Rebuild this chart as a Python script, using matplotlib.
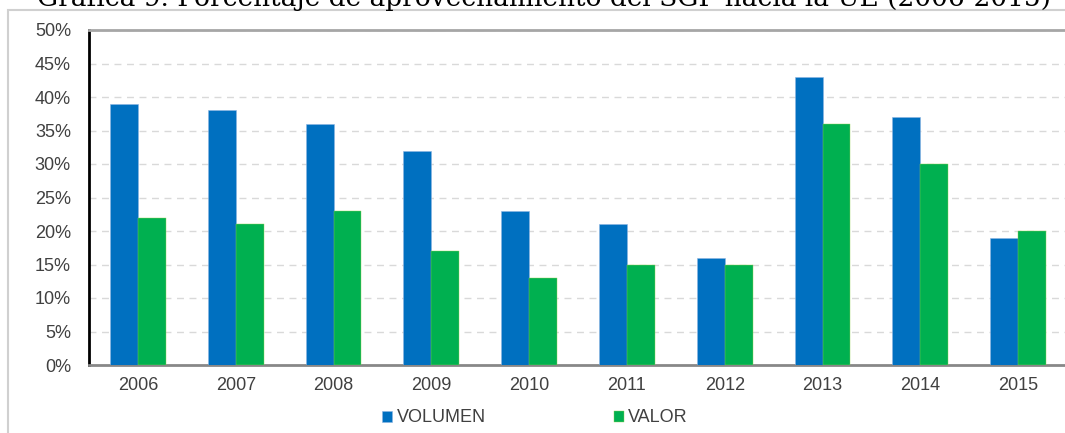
import numpy as np
import matplotlib.pyplot as plt
from matplotlib.patches import Rectangle

# --- datos ---
anios = ['2006', '2007', '2008', '2009', '2010', '2011', '2012', '2013', '2014', '2015']
volumen = [39, 38, 36, 32, 23, 21, 16, 43, 37, 19]
valor = [22, 21, 23, 17, 13, 15, 15, 36, 30, 20]
titulo = 'Gráfica 9. Porcentaje de aprovechamiento del SGP hacia la UE (2006-2015)'

azul = '#0070C0'
verde = '#00B050'
gris_txt = '#404040'

plt.rcParams['font.family'] = ['Liberation Sans', 'DejaVu Sans']

fig = plt.figure(figsize=(10.65, 4.33), dpi=100)
ax = fig.add_axes([89/1065, 1 - 365/433, 978/1065, 335/433])

# marco exterior del gráfico
fig.patches.append(Rectangle((8/1065, -0.1), 1.2, 1 - 10/433 + 0.1,
                             transform=fig.transFigure, fill=False,
                             edgecolor='#D0D0D0', linewidth=1.5, zorder=0))

# titulo (cortado en la parte superior)
fig.text(544/1065, 1 - 6/433, titulo, family='DejaVu Serif', fontsize=19,
         ha='center', va='baseline', color='black')

x = np.arange(len(anios))
w = 0.286
ax.bar(x - w/2, volumen, w, color=azul, label='VOLUMEN', zorder=3,
       edgecolor='#8DB4E2', linewidth=0.4)
ax.bar(x + w/2, valor, w, color=verde, label='VALOR', zorder=3,
       edgecolor='#92D050', linewidth=0.3)

ax.set_xlim(-0.5, len(anios) - 0.5)
ax.set_ylim(0, 50)
ax.set_yticks(np.arange(0, 51, 5))
ax.set_yticklabels([f'{v}%' for v in range(0, 51, 5)])
ax.set_xticks(x)
ax.set_xticklabels(anios)
ax.tick_params(length=0, labelsize=13, colors=gris_txt)
ax.tick_params(axis='y', pad=13)
ax.tick_params(axis='x', pad=9)

ax.yaxis.grid(True, color='#D9D9D9', linestyle=(0, (5, 4)), linewidth=1)
ax.set_axisbelow(True)

ax.spines['left'].set_color('black')
ax.spines['left'].set_linewidth(2)
ax.spines['bottom'].set_color('#888888')
ax.spines['bottom'].set_linewidth(2)
ax.spines['top'].set_color('#A6A6A6')
ax.spines['top'].set_linewidth(2)
ax.spines['right'].set_visible(False)

ax.legend(loc='center', bbox_to_anchor=(446/978, -53/335), ncol=2, frameon=False,
          fontsize=13, labelcolor=gris_txt, handlelength=0.55, handleheight=0.55,
          handletextpad=0.25, columnspacing=7.1, borderpad=0)

plt.savefig('out.png', dpi=100)
